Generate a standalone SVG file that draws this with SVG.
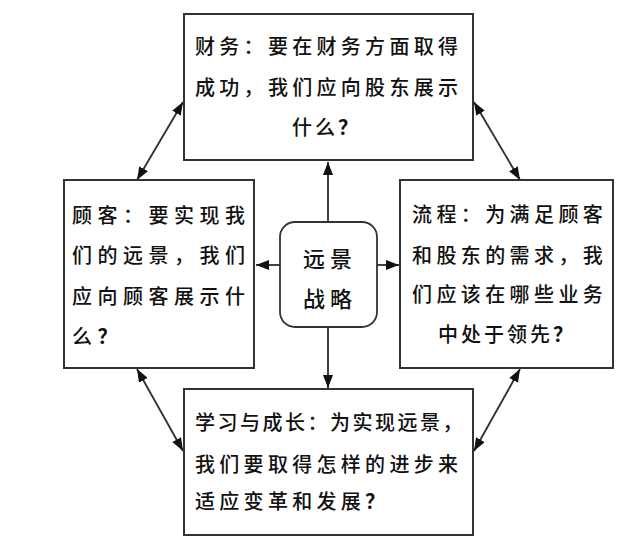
<svg xmlns="http://www.w3.org/2000/svg" width="630" height="558" viewBox="0 0 630 558">
<defs>
<marker id="ah" viewBox="0 0 13 10" refX="13" refY="5" markerWidth="13" markerHeight="10" markerUnits="userSpaceOnUse" orient="auto-start-reverse">
<path d="M0,0 L13,5 L0,10 Z" fill="#111"/>
</marker>
<style>
.box{fill:#fff;stroke:#333;stroke-width:2}
.t{font-family:"Noto Sans CJK SC","Noto Sans CJK JP",sans-serif;font-size:20px;font-weight:500;fill:#111}
.q{font-weight:bold}
.c{stroke:#2c2c3c;stroke-width:1.8;fill:none;marker-start:url(#ah);marker-end:url(#ah)}
.s{stroke:#2c2c3c;stroke-width:1.8;fill:none;marker-end:url(#ah)}
</style>
</defs>
<rect width="630" height="558" fill="#fff"/>
<g id="connectors">
<line class="s" x1="328" y1="222" x2="328" y2="162"/>
<line class="s" x1="328" y1="327" x2="328" y2="388"/>
<line class="s" x1="280" y1="265" x2="256" y2="265"/>
<line class="s" x1="377" y1="265" x2="399" y2="265"/>
<line class="c" x1="183" y1="102" x2="137" y2="180"/>
<line class="c" x1="474" y1="102" x2="520" y2="180"/>
<line class="c" x1="137" y1="369" x2="183" y2="451"/>
<line class="c" x1="520" y1="369" x2="474" y2="451"/>
</g>
<g id="finance">
<rect class="box" x="184" y="14" width="289" height="146"/>
<text class="t" x="195" y="54" style="letter-spacing:4.3px">财务：要在财务方面取得</text>
<text class="t" x="195" y="95" style="letter-spacing:4.3px">成功，我们应向股东展示</text>
<text class="t" x="292" y="135" style="letter-spacing:3px">什么<tspan class="q">？</tspan></text>
</g>
<g id="customer">
<rect class="box" x="64" y="180" width="190" height="188"/>
<text class="t" x="72" y="223" style="letter-spacing:5.5px">顾客：要实现我</text>
<text class="t" x="72" y="263" style="letter-spacing:5.5px">们的远景，我们</text>
<text class="t" x="72" y="304" style="letter-spacing:5.5px">应向顾客展示什</text>
<text class="t" x="72" y="344" style="letter-spacing:5.5px">么<tspan class="q">？</tspan></text>
</g>
<g id="process">
<rect class="box" x="400" y="180" width="213" height="188"/>
<text class="t" x="412" y="222" style="letter-spacing:4.4px">流程：为满足顾客</text>
<text class="t" x="412" y="263" style="letter-spacing:4.4px">和股东的需求，我</text>
<text class="t" x="412" y="302" style="letter-spacing:4.4px">们应该在哪些业务</text>
<text class="t" x="438" y="342" style="letter-spacing:3px">中处于领先<tspan class="q">？</tspan></text>
</g>
<g id="learning">
<rect class="box" x="184" y="389" width="289" height="146"/>
<text class="t" x="195" y="430" style="letter-spacing:2.5px">学习与成长：为实现远景，</text>
<text class="t" x="195" y="472" style="letter-spacing:4.3px">我们要取得怎样的进步来</text>
<text class="t" x="195" y="509" style="letter-spacing:4.3px">适应变革和发展<tspan class="q">？</tspan></text>
</g>
<g id="vision">
<rect x="280" y="222" width="97" height="105" rx="15" ry="15" fill="#fff" stroke="#333" stroke-width="1.8"/>
<text class="t" x="303" y="267" style="font-size:22px;letter-spacing:5px">远景</text>
<text class="t" x="303" y="307" style="font-size:22px;letter-spacing:5px">战略</text>
</g>
</svg>
